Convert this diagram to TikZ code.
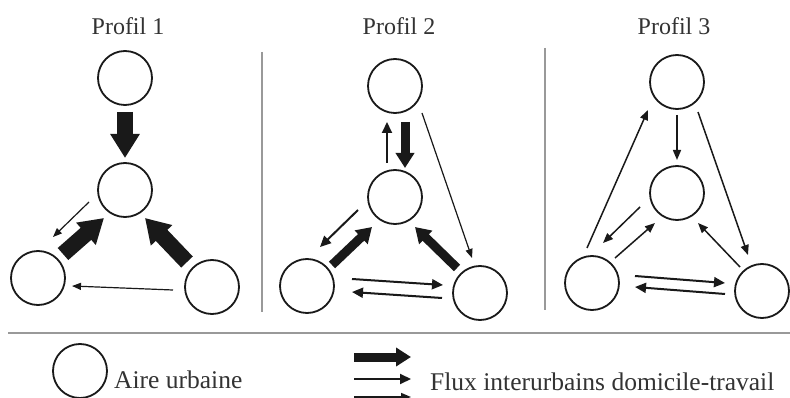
\documentclass[tikz,border=0pt]{standalone}
\usepackage{fontspec}
\setmainfont{Liberation Serif}
\usetikzlibrary{arrows.meta,calc}
\begin{document}
\begin{tikzpicture}[x=1pt,y=-1pt,
  city/.style={circle,draw=black!90,line width=1.8pt,minimum size=54pt,inner sep=0pt},
  bigflow/.style={draw=black!90,line width=16pt,-{Triangle[length=24pt,width=28pt]}},
  midflow/.style={draw=black!90,line width=9pt,-{Triangle[length=15pt,width=18pt]}},
  medflow/.style={draw=black!90,line width=2pt,-{Triangle[length=11pt,width=10pt]}},
  lightflow/.style={draw=black!90,line width=1.5pt,-{Triangle[length=10pt,width=8pt]}},
  thinflow/.style={draw=black!90,line width=1.2pt,-{Triangle[length=9pt,width=7pt]}},
  sep/.style={draw=black!40,line width=1.5pt},
  title/.style={font=\fontsize{24}{28}\selectfont,text=black!80,anchor=base,inner sep=0pt},
  legend/.style={font=\fontsize{25.5}{30}\selectfont,text=black!80,anchor=base west,inner sep=0pt}]
\useasboundingbox[fill=white] (0,0) rectangle (790,398);

% titles
\node[title] (h1) at (128,35) {Profil 1};
\node[title] (h2) at (399,35) {Profil 2};
\node[title] (h3) at (674,35) {Profil 3};

% separators
\draw[sep] (262,52) -- (262,312);
\draw[sep] (545,48) -- (545,310);
\draw[sep] (8,333) -- (790,333);

% Profil 1
\node[city] (t1) at (125,78) {};
\node[city] (m1) at (125,190) {};
\node[city] (l1) at (38,278) {};
\node[city] (r1) at (212,287) {};
\draw[bigflow] ($(t1)+(0,34)$) -- ($(m1)+(0,-32)$);
\draw[bigflow] ($(l1)+(25,-24)$) -- ($(m1)+(-21,28)$);
\draw[bigflow] ($(r1)+(-25,-25)$) -- ($(m1)+(20,28)$);
\draw[thinflow] ($(m1)+(-36,12)$) -- ($(l1)+(15,-41)$);
\draw[thinflow] ($(r1)+(-39,3)$) -- ($(l1)+(34,8)$);

% Profil 2
\node[city] (t2) at (395,86) {};
\node[city] (m2) at (395,197) {};
\node[city] (l2) at (307,286) {};
\node[city] (r2) at (480,293) {};
\draw[medflow] ($(m2)+(-8,-34)$) -- ($(t2)+(-8,36)$);
\draw[midflow] ($(t2)+(10,36)$) -- ($(m2)+(10,-29)$);
\draw[thinflow] ($(t2)+(27,27)$) -- ($(r2)+(-8,-35)$);
\draw[medflow] ($(m2)+(-37,13)$) -- ($(l2)+(13,-39)$);
\draw[midflow] ($(l2)+(25,-21)$) -- ($(m2)+(-23,30)$);
\draw[midflow] ($(r2)+(-23,-25)$) -- ($(m2)+(20,30)$);
\draw[medflow] ($(l2)+(45,-7)$) -- ($(r2)+(-37,-8)$);
\draw[medflow] ($(r2)+(-38,5)$) -- ($(l2)+(45,6)$);

% Profil 3
\node[city] (t3) at (677,82) {};
\node[city] (m3) at (677,193) {};
\node[city] (l3) at (592,283) {};
\node[city] (r3) at (762,291) {};
\draw[lightflow] ($(t3)+(0,33)$) -- ($(m3)+(0,-33)$);
\draw[lightflow] ($(l3)+(-5,-35)$) -- ($(t3)+(-29,28)$);
\draw[lightflow] ($(t3)+(21,30)$) -- ($(r3)+(-14,-36)$);
\draw[lightflow] ($(m3)+(-37,14)$) -- ($(l3)+(11,-40)$);
\draw[lightflow] ($(l3)+(23,-25)$) -- ($(m3)+(-22,30)$);
\draw[lightflow] ($(r3)+(-22,-24)$) -- ($(m3)+(21,30)$);
\draw[medflow] ($(l3)+(43,-7)$) -- ($(r3)+(-37,-8)$);
\draw[medflow] ($(r3)+(-37,3)$) -- ($(l3)+(43,4)$);

% legend
\node[city] (lc) at (80,371) {};
\node[legend] (lt) at (114,388) {Aire urbaine};
\coordinate (a1s) at (354,357); \coordinate (a1e) at (411,357);
\coordinate (a2s) at (354,379); \coordinate (a2e) at (411,379);
\coordinate (a3s) at (354,397); \coordinate (a3e) at (411,397);
\draw[midflow] (a1s) -- (a1e);
\draw[medflow] (a2s) -- (a2e);
\draw[lightflow] (a3s) -- (a3e);
\node[legend] (lf) at (430,390) {Flux interurbains domicile-travail};
\end{tikzpicture}
\end{document}
